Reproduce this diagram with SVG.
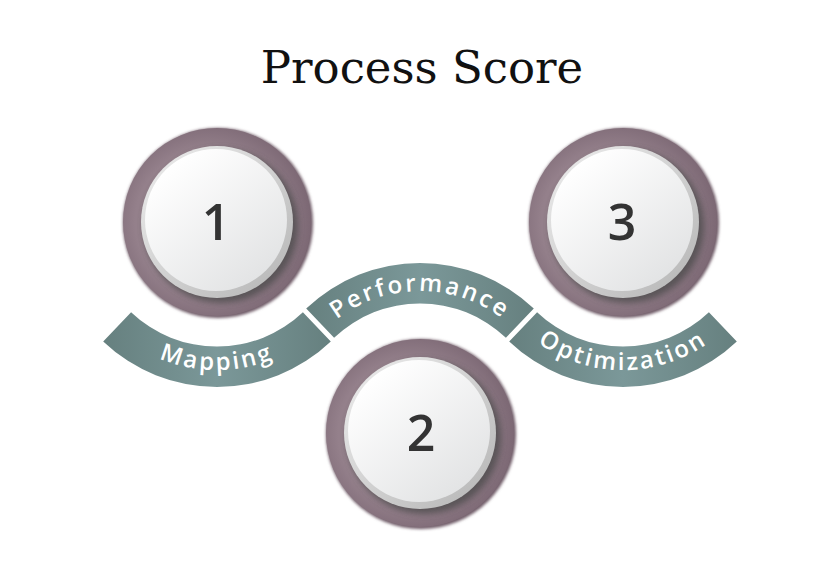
<svg xmlns="http://www.w3.org/2000/svg" width="840" height="564" viewBox="0 0 840 564">
  <defs>
    <radialGradient id="ringGrad" cx="0.45" cy="0.5" r="0.55">
      <stop offset="0.7" stop-color="#94808b"/>
      <stop offset="1" stop-color="#7c6874"/>
    </radialGradient>
    <linearGradient id="rimGrad" x1="0" y1="0" x2="1" y2="1">
      <stop offset="0" stop-color="#eeeeee"/>
      <stop offset="1" stop-color="#b4b4b4"/>
    </linearGradient>
    <linearGradient id="faceGrad" x1="0.2" y1="0.1" x2="0.85" y2="0.9">
      <stop offset="0" stop-color="#ffffff"/>
      <stop offset="1" stop-color="#e2e3e4"/>
    </linearGradient>
    <linearGradient id="bandGrad" x1="0" y1="0" x2="1" y2="0">
      <stop offset="0" stop-color="#66807f"/>
      <stop offset="0.5" stop-color="#7b9899"/>
      <stop offset="1" stop-color="#66807f"/>
    </linearGradient>
    <filter id="shadow" x="-30%" y="-30%" width="160%" height="160%">
      <feGaussianBlur stdDeviation="3"/>
    </filter>
    <filter id="ringShadow" x="-30%" y="-30%" width="160%" height="160%">
      <feGaussianBlur stdDeviation="1.5"/>
    </filter>
    <path id="arcMap" d="M 77.9 272.6 A 148 148 0 0 0 356.1 272.6"/>
    <path id="arcPerf" d="M 291.3 381.1 A 137 137 0 0 1 548.7 381.1"/>
    <path id="arcOpt" d="M 483.9 272.6 A 148 148 0 0 0 762.1 272.6"/>
  </defs>
  <style>
    .band { fill: url(#bandGrad); }
    .bandText { font-family: "Open Sans", "DejaVu Sans", sans-serif; font-weight: 600; font-size: 24px; fill: #ffffff; letter-spacing: 2.6px; }
    .ring { fill: url(#ringGrad); }
    .ringEdge { fill: #6e5a66; }
    .shadow { fill: #4a4a4a; opacity: 0.75; }
    .rim { fill: url(#rimGrad); }
    .face { fill: url(#faceGrad); }
    .num { font-family: "Open Sans", "DejaVu Sans", sans-serif; font-weight: 600; font-size: 50px; fill: #333333; text-anchor: middle; }
    .title { font-family: "DejaVu Serif", "Liberation Serif", serif; font-size: 45px; fill: #111111; text-anchor: middle; }
  </style>

  <rect width="840" height="564" fill="#ffffff"/>

  <text class="title" x="422" y="83">Process Score</text>

  <g id="connectors">
    <g id="band-mapping">
      <path class="band" d="M 103.2 341.5 A 165 165 0 0 0 330.8 341.5 L 302.9 312.2 A 124.5 124.5 0 0 1 131.1 312.2 Z"/>
      <text class="bandText"><textPath href="#arcMap" startOffset="50%" text-anchor="middle">Mapping</textPath></text>
    </g>
    <g id="band-performance">
      <path class="band" d="M 306.2 308.5 A 165 165 0 0 1 533.8 308.5 L 505.9 337.8 A 124.5 124.5 0 0 0 334.1 337.8 Z"/>
      <text class="bandText"><textPath href="#arcPerf" startOffset="50%" text-anchor="middle">Performance</textPath></text>
    </g>
    <g id="band-optimization">
      <path class="band" d="M 509.2 341.5 A 165 165 0 0 0 736.8 341.5 L 708.9 312.2 A 124.5 124.5 0 0 1 537.1 312.2 Z"/>
      <text class="bandText"><textPath href="#arcOpt" startOffset="50%" text-anchor="middle">Optimization</textPath></text>
    </g>
  </g>

  <g id="node1">
    <circle class="ringEdge" cx="218" cy="223" r="95" filter="url(#ringShadow)"/>
    <circle class="ring" cx="217" cy="222" r="94"/>
    <circle class="shadow" cx="221" cy="226" r="77" filter="url(#shadow)"/>
    <circle class="rim" cx="217" cy="222" r="76"/>
    <circle class="face" cx="216" cy="220" r="71"/>
    <text class="num" x="216" y="240">1</text>
  </g>

  <g id="node2">
    <circle class="ringEdge" cx="421" cy="434" r="95" filter="url(#ringShadow)"/>
    <circle class="ring" cx="420" cy="433" r="94"/>
    <circle class="shadow" cx="424" cy="437" r="77" filter="url(#shadow)"/>
    <circle class="rim" cx="420" cy="433" r="76"/>
    <circle class="face" cx="419" cy="431" r="71"/>
    <text class="num" x="421" y="451">2</text>
  </g>

  <g id="node3">
    <circle class="ringEdge" cx="624" cy="223" r="95" filter="url(#ringShadow)"/>
    <circle class="ring" cx="623" cy="222" r="94"/>
    <circle class="shadow" cx="627" cy="226" r="77" filter="url(#shadow)"/>
    <circle class="rim" cx="623" cy="222" r="76"/>
    <circle class="face" cx="622" cy="220" r="71"/>
    <text class="num" x="622" y="240">3</text>
  </g>
</svg>
